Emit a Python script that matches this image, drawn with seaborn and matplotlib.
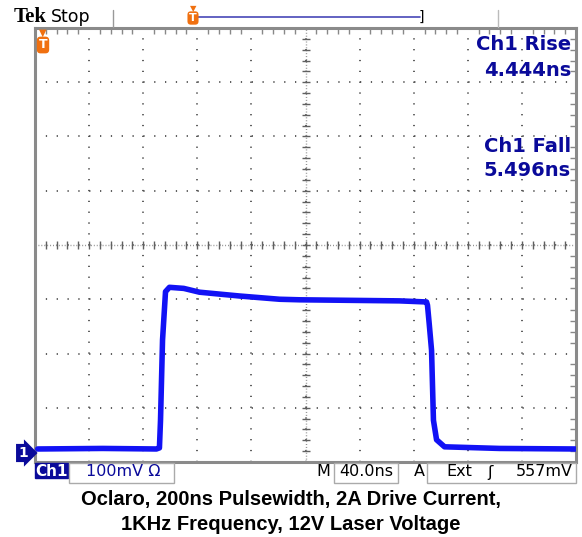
import numpy as np
import pandas as pd
import matplotlib
matplotlib.use("Agg")
import matplotlib.pyplot as plt
from matplotlib.patches import Rectangle
import seaborn as sns

# waveform key points (time in ns, amplitude in mV above ground)
time_ns = [-198, -150, -110.2, -108.0, -107.2, -105.7, -103.5, -100.6, -90, -78.4,
           -48.8, -19.2, -4.4, 32.5, 69.5, 89.5, 90.2, 91.5, 93.2, 94.6, 96.9,
           102.8, 143.4, 199.6]
volt_mv = [0, 1, 0, 2, 53, 201, 290, 298, 296, 289,
           282, 276, 275, 274, 273, 271, 265, 230, 182, 53, 17,
           4, 1, 0]

rise_txt = ["Ch1 Rise", "4.444ns"]
fall_txt = ["Ch1 Fall", "5.496ns"]
caption = ["Oclaro, 200ns Pulsewidth, 2A Drive Current,",
           "1KHz Frequency, 12V Laser Voltage"]

ns_per_div = 40
mv_per_div = 100
ground_div = 3.76   # ground marker below screen centre, divisions

df = pd.DataFrame({"t": time_ns, "v": volt_mv})

sns.set_style("white")
plt.rcParams["font.family"] = ["DejaVu Sans"]
plt.rcParams["lines.scale_dashes"] = False

W, H = 582, 537
fig = plt.figure(figsize=(W / 100, H / 100), dpi=100)
ax = fig.add_axes([35 / W, (H - 462) / H, 541 / W, 434 / H])

x0, x1 = -5 * ns_per_div, 5 * ns_per_div
y0 = -(4 - ground_div) * mv_per_div
y1 = y0 + 8 * mv_per_div
ax.set_xlim(x0, x1)
ax.set_ylim(y0, y1)

ax.set_xticks(np.arange(x0, x1 + 1, ns_per_div))
ax.set_yticks(y0 + np.arange(0, 9) * mv_per_div)
ax.set_xticks(np.arange(x0, x1 + 1, ns_per_div / 5), minor=True)
ax.set_yticks(y0 + np.arange(0, 41) * mv_per_div / 5, minor=True)
ax.tick_params(which="both", direction="in", top=True, right=True,
               labelbottom=False, labelleft=False, color="#888888")
ax.tick_params(which="major", length=0)
ax.tick_params(which="minor", length=4, width=1)
for s in ax.spines.values():
    s.set_color("#8a8a8a")
    s.set_linewidth(2.2)

# dotted graticule
ax.grid(True, which="major", color="#505050", linewidth=1.3,
        linestyle=(0, (0.9, 6.9)))
xc = (x0 + x1) / 2
yc = (y0 + y1) / 2
ax.axvline(xc, color="#909090", lw=1, ls=(0, (0.7, 1.4)))
ax.axhline(yc, color="#909090", lw=1, ls=(0, (0.7, 1.4)))
ax.plot(np.arange(x0, x1 + 1, ns_per_div / 5), np.full(51, yc), ls="none",
        marker="|", ms=6, mew=1, color="#606060")
ax.plot(np.full(41, xc), y0 + np.arange(0, 41) * mv_per_div / 5, ls="none",
        marker="_", ms=6, mew=1, color="#606060")

sns.lineplot(data=df, x="t", y="v", sort=False, color="#1212f5",
             lw=4, ax=ax, zorder=5)
ax.set_xlabel("")
ax.set_ylabel("")

blue = "#0a0a9a"
def px(x, y):
    return x / W, 1 - y / H

def box(xa, ya, xb, yb, fc="white", ec="#aaaaaa"):
    fig.add_artist(Rectangle((xa / W, 1 - yb / H), (xb - xa) / W, (yb - ya) / H,
                             transform=fig.transFigure, fc=fc, ec=ec, lw=1))

# measurement readouts
for (txt, yy) in [(rise_txt[0], 45), (rise_txt[1], 70), (fall_txt[0], 146), (fall_txt[1], 170)]:
    fig.text(*px(571, yy), txt, ha="right", va="center", color=blue,
             fontsize=14, weight="bold")

# top status bar
fig.text(*px(14, 17), "Tek", family="Liberation Serif", weight="bold",
         fontsize=15, va="center", color="black")
fig.text(*px(51, 17), "Stop", fontsize=12.5, va="center", color="black")
fig.add_artist(plt.Line2D([113 / W, 113 / W], [1 - 10 / H, 1 - 27 / H], color="#999999", lw=1))
fig.add_artist(plt.Line2D([498 / W, 498 / W], [1 - 10 / H, 1 - 27 / H], color="#bbbbbb", lw=1))
fig.add_artist(plt.Line2D([196 / W, 420 / W], [1 - 17 / H, 1 - 17 / H], color="#4848b8", lw=1.2))
fig.text(*px(421, 17), "]", fontsize=10, va="center", ha="center", color="black")
orange = "#f07010"
fig.text(*px(193, 18), "T", fontsize=8, weight="bold", color="white", ha="center",
         va="center", bbox=dict(boxstyle="round,pad=0.15,rounding_size=0.3", fc=orange, ec="none"))
fig.text(*px(193, 9), "▼", fontsize=6, color=orange, ha="center", va="center")
fig.text(*px(43, 45), "T", fontsize=9, weight="bold", color="white", ha="center",
         va="center", bbox=dict(boxstyle="round,pad=0.15,rounding_size=0.3", fc=orange, ec="none"))
fig.text(*px(43, 33), "▼", fontsize=7, color=orange, ha="center", va="center")

# ground marker
fig.text(*px(23, 453), "1", fontsize=10, weight="bold", color="white", ha="center",
         va="center", bbox=dict(boxstyle="rarrow,pad=0.15", fc=blue, ec="none"))

# bottom readout bar
box(35, 463, 68, 478, fc=blue, ec=blue)
fig.text(*px(51.5, 471), "Ch1", fontsize=11, weight="bold", color="white",
         va="center", ha="center")
box(69, 463, 174, 483)
fig.text(*px(86, 472), "100mV Ω", fontsize=11.5, color=blue, va="center")
fig.text(*px(316, 472), "M", fontsize=11.5, color="black", va="center")
box(334, 463, 398, 483)
fig.text(*px(366, 472), "40.0ns", fontsize=11.5, color="black", va="center", ha="center")
fig.text(*px(414, 472), "A", fontsize=11.5, color="black", va="center")
box(427, 463, 576, 483)
fig.text(*px(446, 472), "Ext", fontsize=11.5, color="black", va="center")
fig.text(*px(490, 472), "ʃ", fontsize=11.5, color="black", va="center", ha="center")
fig.text(*px(573, 472), "557mV", fontsize=11.5, color="black", va="center", ha="right")

# caption
for txt, yy in zip(caption, [500, 524]):
    fig.text(*px(291, yy), txt, ha="center", va="center", family="Liberation Sans",
             weight="bold", fontsize=14.5, color="black")

fig.savefig("out.png", dpi=100)
